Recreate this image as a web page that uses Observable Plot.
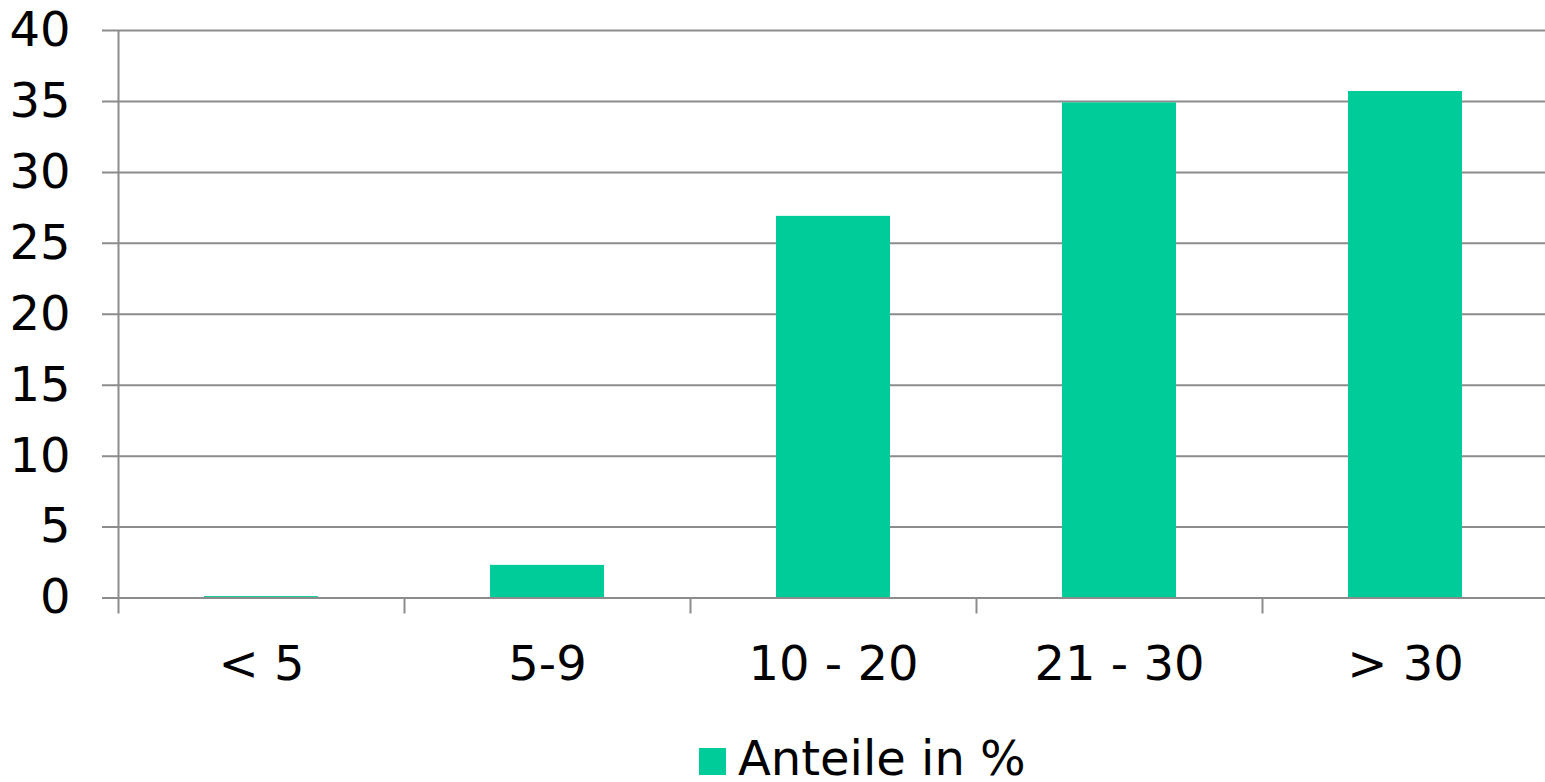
<!DOCTYPE html>
<html>
<head>
<meta charset="utf-8">
<script src="https://cdn.jsdelivr.net/npm/d3@7"></script>
<script src="https://cdn.jsdelivr.net/npm/@observablehq/plot@0.6"></script>
<style>
  html, body { margin: 0; padding: 0; background: #fff; overflow: hidden; }
  body { position: relative; width: 1545px; height: 782px; font-family: "DejaVu Sans", Verdana, sans-serif; }
  #chart svg { display: block; }
  .legend {
    position: absolute; left: 0; top: 734px; padding-left: 699px;
    font-size: 48px; line-height: 48px; color: #000; white-space: nowrap;
  }
  .legend .swatch {
    display: inline-block; width: 27px; height: 27px; background: #00cc99;
    margin-right: 12px; vertical-align: baseline;
  }
</style>
</head>
<body>
<div id="chart"></div>
<div class="legend"><span class="swatch"></span>Anteile in %</div>
<script>
// Größenklassen und Anteile in %
const categories = ["< 5", "5-9", "10 - 20", "21 - 30", "> 30"];
const shares = [0.1, 2.3, 26.9, 34.9, 35.7];
const yTicks = [0, 5, 10, 15, 20, 25, 30, 35, 40];
const seriesName = "Anteile in %";

const data = categories.map((c, i) => ({category: c, value: shares[i]}));

const W = 1545, H = 734;
const mLeft = 118, mRight = -3, mTop = 30, mBottom = 136.5;
const step = (W - mLeft - mRight) / categories.length;
const grey = "#8c8c8c";
const barColor = "#00cc99";

const chart = Plot.plot({
  width: W,
  height: H,
  marginLeft: mLeft,
  marginRight: mRight,
  marginTop: mTop,
  marginBottom: mBottom,
  style: {fontFamily: "DejaVu Sans", fontSize: "48px", background: "white", color: "black", overflow: "visible"},
  x: {type: "band", domain: categories, paddingInner: 0.6, paddingOuter: 0.3, tickSize: 0, tickPadding: 48, label: null},
  y: {domain: [0, 40], ticks: yTicks, tickSize: 0, tickPadding: 48, label: null},
  marks: [
    // horizontal gridlines with their outer tick
    Plot.ruleY(yTicks, {stroke: grey, strokeWidth: 2, insetLeft: -16}),
    // vertical value axis line
    Plot.ruleX([categories[0]], {x: d => d, y1: 0, y2: 40, dx: -step / 2, stroke: grey, strokeWidth: 2}),
    // category boundary ticks below the baseline
    Plot.ruleX(categories, {x: d => d, y1: 0, y2: 0, insetBottom: -16, dx: -step / 2, stroke: grey, strokeWidth: 2}),
    Plot.barY(data, {x: "category", y: "value", fill: barColor, title: d => `${seriesName}: ${d.value}`}),
    Plot.ruleY([0], {stroke: grey, strokeWidth: 2, insetLeft: -16})
  ]
});
document.getElementById("chart").appendChild(chart);
</script>
</body>
</html>
